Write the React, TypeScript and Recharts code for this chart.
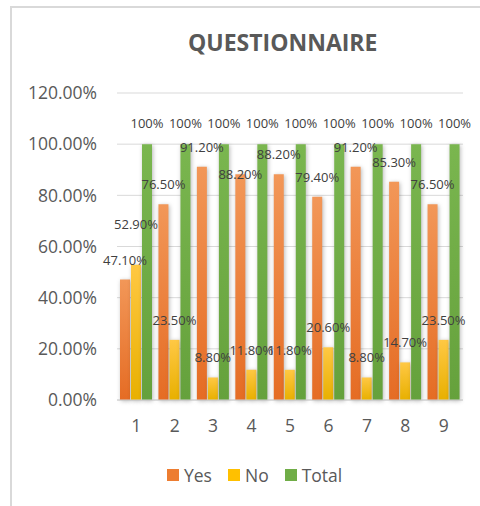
import { BarChart, Bar, XAxis, YAxis, CartesianGrid, LabelList } from 'recharts';

const categories = ['1', '2', '3', '4', '5', '6', '7', '8', '9'];
const yesValues = [47.1, 76.5, 91.2, 88.2, 88.2, 79.4, 91.2, 85.3, 76.5];
const noValues = [52.9, 23.5, 8.8, 11.8, 11.8, 20.6, 8.8, 14.7, 23.5];
const totalValues = [100, 100, 100, 100, 100, 100, 100, 100, 100];
const yTicks = [0, 20, 40, 60, 80, 100, 120];

const data = categories.map((name, i) => ({
  name,
  yes: yesValues[i],
  no: noValues[i],
  total: totalValues[i],
}));

const font = '"Open Sans", sans-serif';
const textGray = '#595959';
const labelGray = '#404040';

const legendItems = [
  { label: 'Yes', color: '#ED7D31' },
  { label: 'No', color: '#FFC000' },
  { label: 'Total', color: '#70AD47' },
];

const pct2 = (v: any) => `${Number(v).toFixed(2)}%`;
const pct0 = (v: any) => `${v}%`;

function LabelText({ x, y, children }: any) {
  return (
    <text x={x} y={y} textAnchor="middle" fontSize={13} fill={labelGray} fontFamily={font}>
      {children}
    </text>
  );
}

// "Yes" label: when squeezed by both neighbours' labels at about the same height, drop it down
function YesLabel(props: any) {
  const { x, y, width, height, value, index } = props;
  const pxPerUnit = value ? height / value : 0;
  const near = (j: number) =>
    j >= 0 && j < yesValues.length && Math.abs(yesValues[j] - value) * pxPerUnit < 14;
  const squeezed = near(index - 1) && near(index + 1);
  return (
    <LabelText x={x + width / 2} y={y - 15 + (squeezed ? 20 : 0)}>
      {pct2(value)}
    </LabelText>
  );
}

// "No" label: if it would sit on top of the "Yes" label of the same category, lift it
function NoLabel(props: any) {
  const { x, y, width, height, value, index } = props;
  const base = y + height;
  const yesTop = value ? base - (yesValues[index] * height) / value : base;
  const clash = Math.abs(yesTop - y) < 16;
  return (
    <LabelText x={x + width / 2} y={y - 15 - (clash ? 21 : 0)}>
      {pct2(value)}
    </LabelText>
  );
}

export default function App() {
  const labelStyle = { fontSize: 13, fill: labelGray, fontFamily: font };
  return (
    <div
      style={{
        position: 'absolute',
        left: 0,
        top: 0,
        width: 480,
        height: 506,
        overflow: 'hidden',
        background: '#fff',
        fontFamily: font,
      }}
    >
      <style>{`.recharts-bar-rectangles { filter: drop-shadow(1px 1px 2px rgba(0,0,0,0.28)); }`}</style>
      <div
        style={{
          position: 'absolute',
          left: 10,
          top: 6,
          width: 600,
          height: 600,
          border: '2px solid #d9d9d9',
        }}
      />
      <div
        style={{
          position: 'absolute',
          left: 188,
          top: 27,
          lineHeight: '30px',
          fontSize: 23,
          fontWeight: 700,
          color: textGray,
          whiteSpace: 'nowrap',
        }}
      >
        QUESTIONNAIRE
      </div>
      <div style={{ position: 'absolute', left: 0, top: 0 }}>
        <BarChart
          width={480}
          height={506}
          data={data}
          margin={{ top: 93, right: 17, left: 17, bottom: 76 }}
          barSize={10}
          barGap={1}
        >
          <defs>
            <linearGradient id="gYes" x1="0" y1="0" x2="0" y2="1">
              <stop offset="0%" stopColor="#F29758" />
              <stop offset="100%" stopColor="#E56C24" />
            </linearGradient>
            <linearGradient id="gNo" x1="0" y1="0" x2="0" y2="1">
              <stop offset="0%" stopColor="#FFC844" />
              <stop offset="100%" stopColor="#E8B000" />
            </linearGradient>
            <linearGradient id="gTotal" x1="0" y1="0" x2="0" y2="1">
              <stop offset="0%" stopColor="#7AB64F" />
              <stop offset="100%" stopColor="#65A13C" />
            </linearGradient>
          </defs>
          <CartesianGrid vertical={false} stroke="#d9d9d9" />
          <XAxis
            dataKey="name"
            axisLine={{ stroke: '#d0d0d0' }}
            tickLine={false}
            tickSize={0}
            tickMargin={20}
            height={30}
            tick={{ fontSize: 17.5, fill: textGray, fontFamily: font }}
          />
          <YAxis
            domain={[0, 120]}
            ticks={yTicks}
            tickFormatter={pct2}
            axisLine={false}
            tickLine={false}
            tickSize={0}
            tickMargin={20}
            width={100}
            tick={{ fontSize: 17.5, fill: textGray, fontFamily: font }}
          />
          <Bar dataKey="yes" fill="url(#gYes)" isAnimationActive={false}>
            <LabelList dataKey="yes" content={<YesLabel />} />
          </Bar>
          <Bar dataKey="no" fill="url(#gNo)" isAnimationActive={false}>
            <LabelList dataKey="no" content={<NoLabel />} />
          </Bar>
          <Bar dataKey="total" fill="url(#gTotal)" isAnimationActive={false}>
            <LabelList dataKey="total" position="top" offset={16} formatter={pct0} style={labelStyle} />
          </Bar>
        </BarChart>
      </div>
      <div
        style={{
          position: 'absolute',
          left: 167,
          top: 462,
          display: 'flex',
          alignItems: 'center',
          height: 26,
          fontSize: 17.5,
          color: textGray,
        }}
      >
        {legendItems.map((item) => (
          <div key={item.label} style={{ display: 'flex', alignItems: 'center', marginRight: 16 }}>
            <span style={{ width: 12, height: 12, background: item.color, marginRight: 5 }} />
            <span>{item.label}</span>
          </div>
        ))}
      </div>
    </div>
  );
}
